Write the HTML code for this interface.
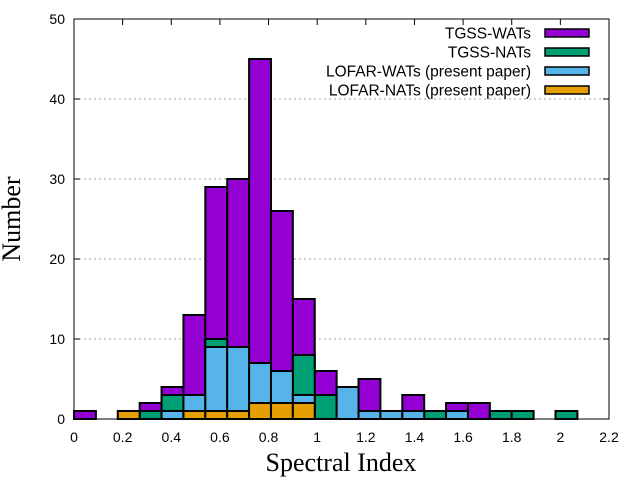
<!DOCTYPE html>
<html><head><meta charset="utf-8"><style>body{margin:0;background:#fff}svg{display:block}</style></head>
<body>
<svg id="chart" width="640" height="480" viewBox="0 0 640 480" font-family="Liberation Sans, sans-serif">
</svg>
<script>
const binWidth = 0.09;
const tgssWats  = [1,0,0,2,4,13,29,30,45,26,15,6,0,5,0,3,0,2,2,0,0,0,0];
const tgssNats  = [0,0,0,1,3,0,10,0,0,0,8,3,0,0,0,0,1,0,0,1,1,0,1];
const lofarWats = [0,0,0,0,1,3,9,9,7,6,3,0,4,1,1,1,0,1,0,0,0,0,0];
const lofarNats = [0,0,1,0,0,1,1,1,2,2,2,0,0,0,0,0,0,0,0,0,0,0,0];
const xTicks = [0,0.2,0.4,0.6,0.8,1,1.2,1.4,1.6,1.8,2,2.2];
const yTicks = [0,10,20,30,40,50];
const seriesNames = ["TGSS-WATs","TGSS-NATs","LOFAR-WATs (present paper)","LOFAR-NATs (present paper)"];
const seriesColors = ["#9400d3","#009e73","#56b4e9","#e69f00"];

const svg = document.getElementById('chart');
const NS = 'http://www.w3.org/2000/svg';
const X0=74, X1=609, Y0=419, Y1=19;
const xs = v => X0 + v/2.2*(X1-X0);
const ys = v => Y0 - v/50*(Y0-Y1);
function mk(tag, attrs){const e=document.createElementNS(NS,tag);for(const k in attrs)e.setAttribute(k,attrs[k]);svg.appendChild(e);return e;}

yTicks.forEach(t=>{
  if(t>0 && t<50){const g=mk('line',{x1:X0,x2:X1,y1:ys(t),y2:ys(t),stroke:'#a0a0a0','stroke-dasharray':'2,3'});
  
  }
  const tk=mk('line',{x1:X0,x2:X0+6,y1:ys(t),y2:ys(t),stroke:'#000'});
  
  
  const tk2=mk('line',{x1:X1,x2:X1-6,y1:ys(t),y2:ys(t),stroke:'#000'});
  
  
  const l=mk('text',{x:X0-9,y:ys(t)+5,'text-anchor':'end','font-size':14});
  l.textContent=t;
  
  
});
xTicks.forEach(t=>{
  const tk=mk('line',{x1:xs(t),x2:xs(t),y1:Y0,y2:Y0-6,stroke:'#000'});
  
  
  const tk2=mk('line',{x1:xs(t),x2:xs(t),y1:Y1,y2:Y1+6,stroke:'#000'});
  
  
  const l=mk('text',{x:xs(t),y:Y0+23,'text-anchor':'middle','font-size':14});
  l.textContent=t;
  
  
});

[tgssWats,tgssNats,lofarWats,lofarNats].forEach((arr,si)=>{
  arr.forEach((v,i)=>{
    if(v<=0) return;
    const r=mk('rect',{x:xs(i*binWidth),y:ys(v),width:xs((i+1)*binWidth)-xs(i*binWidth),height:ys(0)-ys(v),fill:seriesColors[si],stroke:'#000','stroke-width':2});
    
    
  });
});

const frame=mk('rect',{x:X0,y:Y1,width:X1-X0,height:Y0-Y1,fill:'none',stroke:'#000','stroke-width':1});



const ly=[33,52,71,90];
seriesNames.forEach((n,i)=>{
  const t=mk('text',{x:531,y:ly[i]+5.5,'text-anchor':'end','font-size':15.5});
  t.textContent=n;
  
  
  const s=mk('rect',{x:545,y:ly[i]-4,width:44,height:8,fill:seriesColors[i],stroke:'#000','stroke-width':1.5});
  
  
});

const xt=mk('text',{x:341,y:471,'text-anchor':'middle','font-size':26,'font-family':'Liberation Serif, serif'});
xt.textContent='Spectral Index';


const yt=mk('text',{x:0,y:0,'text-anchor':'middle','font-size':26,'font-family':'Liberation Serif, serif',transform:'translate(20,219) rotate(-90)'});
yt.textContent='Number';


</script>
</body></html>
